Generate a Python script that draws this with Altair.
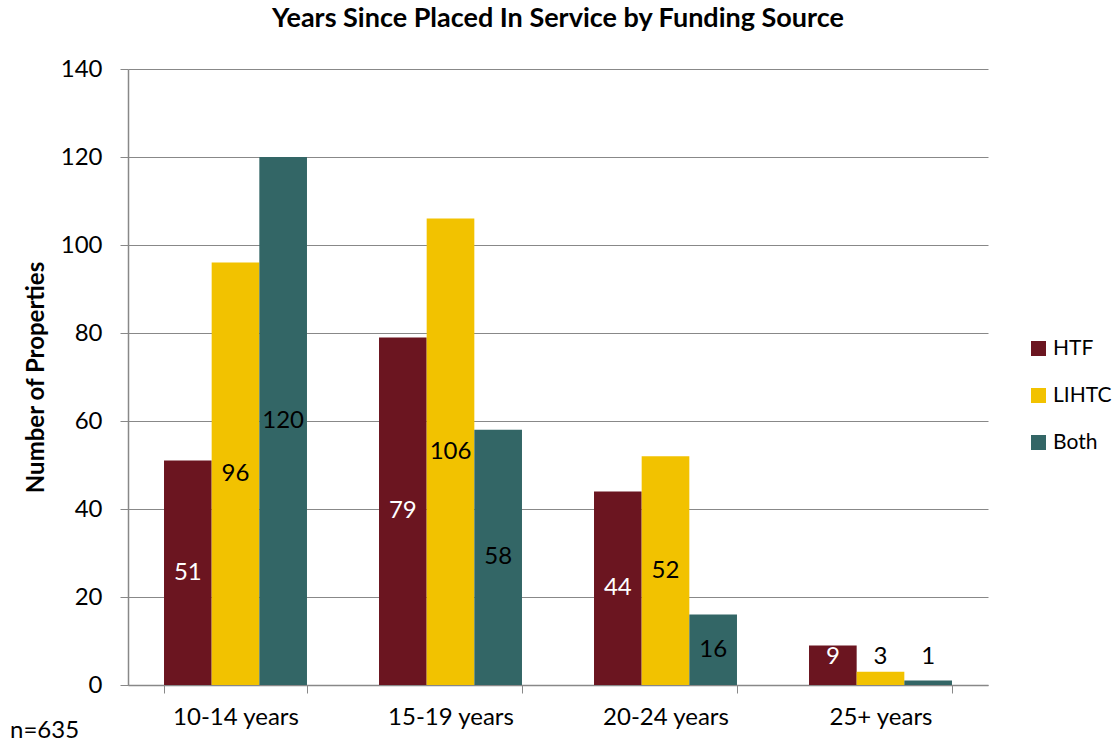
import altair as alt
import pandas as pd

categories = ["10-14 years", "15-19 years", "20-24 years", "25+ years"]
sources = ["HTF", "LIHTC", "Both"]
htf = [51, 79, 44, 9]
lihtc = [96, 106, 52, 3]
both = [120, 58, 16, 1]
colors = ["#6B1520", "#F2C200", "#336666"]

rows = []
for i, c in enumerate(categories):
    for s, vals in zip(sources, [htf, lihtc, both]):
        rows.append({"period": c, "source": s, "value": vals[i]})
df = pd.DataFrame(rows)

FONT = "Lato"

base = alt.Chart(df)

x_enc = alt.X("period:N", sort=categories, title=None,
              scale=alt.Scale(paddingInner=0.335, paddingOuter=0.1675),
              axis=alt.Axis(labelAngle=0, tickBand="extent", labelFontSize=24,
                            labelFont=FONT, labelColor="#000", tickSize=8,
                            tickColor="#888", domainColor="#888", domainWidth=1.5,
                            labelPadding=12, grid=False))

bars = base.mark_bar().encode(
    x=x_enc,
    xOffset=alt.XOffset("source:N", sort=sources, scale=alt.Scale(paddingInner=0)),
    y=alt.Y("value:Q", title="Number of Properties",
            scale=alt.Scale(domain=[0, 140]),
            axis=alt.Axis(values=list(range(0, 141, 20)), labelFontSize=24, labelFont=FONT,
                          labelColor="#000", titleFontSize=24, titleFont=FONT,
                          titleFontWeight="bold", titleColor="#000", titlePadding=12,
                          tickSize=8, tickColor="#888", domainColor="#888", domainWidth=1.5,
                          gridColor="#888", gridWidth=1, labelPadding=18)),
    color=alt.Color("source:N", sort=sources,
                    scale=alt.Scale(domain=sources, range=colors),
                    legend=alt.Legend(title=None, orient="none", legendX=900, legendY=269,
                                      symbolType="square", symbolSize=225,
                                      symbolStrokeWidth=0, labelFontSize=21, labelFont=FONT,
                                      labelColor="#000", rowPadding=25, labelOffset=4)),
)

labels = base.transform_calculate(
    ypos="max(datum.value / 2, 6.4)"
).mark_text(fontSize=24, font=FONT).encode(
    x=alt.X("period:N", sort=categories),
    xOffset=alt.XOffset("source:N", sort=sources),
    y=alt.Y("ypos:Q"),
    text="value:Q",
    color=alt.condition("datum.source == 'HTF'", alt.value("white"), alt.value("black")),
)

note = alt.Chart(pd.DataFrame({"t": ["n=635"]})).mark_text(
    fontSize=24, font=FONT, align="left", baseline="middle", color="#000"
).encode(x=alt.value(-118), y=alt.value(662), text="t:N")

chart = alt.layer(bars, labels, note).properties(
    width=860, height=616,
    title=alt.TitleParams("Years Since Placed In Service by Funding Source",
                          fontSize=27, font=FONT, fontWeight="bold", color="#000",
                          anchor="middle", offset=24),
    autosize=alt.AutoSizeParams(type="none"),
    padding={"left": 128, "top": 69, "right": 130, "bottom": 57},
).configure_view(stroke=None)

chart.save("out.html", embed_options={"renderer": "svg", "actions": False})
